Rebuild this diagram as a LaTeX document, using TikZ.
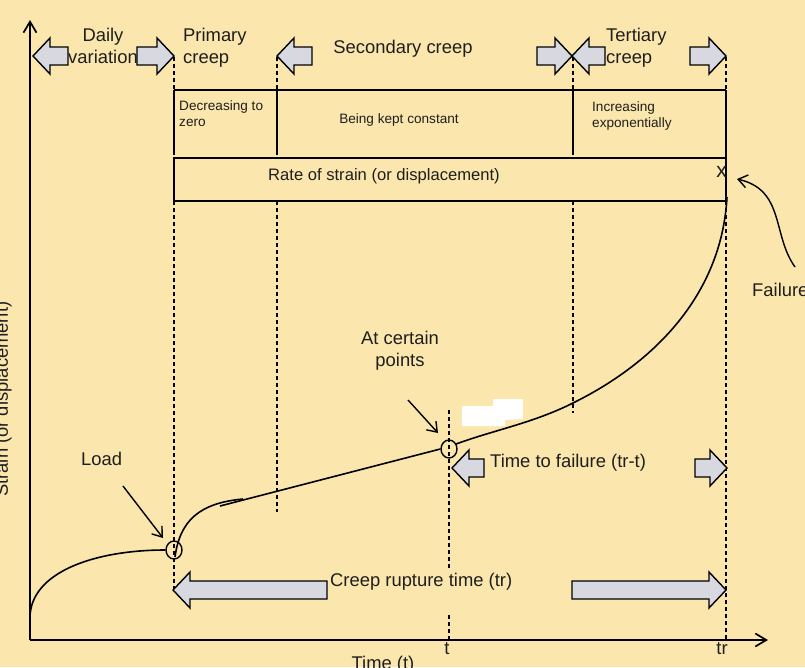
\documentclass[tikz,border=0pt]{standalone}
\usepackage{fontspec}
\setmainfont{Liberation Sans}
\usetikzlibrary{arrows.meta,shapes.geometric}
\definecolor{bgc}{RGB}{251,231,173}
\definecolor{arrfill}{RGB}{216,216,224}
\definecolor{txt}{RGB}{30,30,30}
\tikzset{
  blk/.style={draw=black, fill=arrfill, line width=1.4pt, line join=miter},
  big/.style={font=\fontsize{18.4}{22}\selectfont, inner sep=0pt, text=txt},
  mid/.style={font=\fontsize{16.6}{20}\selectfont, inner sep=0pt, text=txt},
  small/.style={font=\fontsize{13.6}{16}\selectfont, inner sep=0pt, text=txt},
  xl/.style={font=\fontsize{21}{24}\selectfont, inner sep=0pt, text=txt},
  solidln/.style={line width=1.6pt},
  dashln/.style={line width=1.1pt, dash pattern=on 4pt off 3pt},
  curve/.style={line width=1.6pt},
  ptr/.style={line width=1.4pt, -{Straight Barb[length=9pt,width=13pt]}},
  axisln/.style={line width=1.7pt},
  ring/.style={ellipse, draw, line width=1.4pt, minimum width=16pt, minimum height=18pt, inner sep=0pt},
}
\newcommand\lblk[3]{\draw[blk] (#1,#2) -- ++(17,-18) -- ++(0,9) -- (#3,#2-9) -- (#3,#2+9) -- (#1+17,#2+9) -- ++(0,9) -- cycle;}
\newcommand\rblk[3]{\draw[blk] (#1,#2) -- ++(-17,-18) -- ++(0,9) -- (#3,#2-9) -- (#3,#2+9) -- (#1-17,#2+9) -- ++(0,9) -- cycle;}
\begin{document}
\begin{tikzpicture}[x=1pt,y=-1pt]
\fill[bgc] (0,0) rectangle (805,667);
\useasboundingbox (0,0) rectangle (805,667);

% axes
\coordinate (O) at (30,640);
\coordinate (ytop) at (30,20);
\coordinate (xend) at (768,640);
\draw[axisln, -{Straight Barb[length=11pt,width=13pt]}] (O) -- (ytop);
\draw[axisln, -{Straight Barb[length=11pt,width=13pt]}] (O) -- (xend);

% dashed guide lines
\draw[dashln] (174,57) -- (174,90);
\draw[dashln] (277,57) -- (277,90);
\draw[dashln] (573,57) -- (573,90);
\draw[dashln] (726,57) -- (726,90);
\draw[dashln] (174,201) -- (174,590);
\draw[dashln] (277,201) -- (277,512);
\draw[dashln] (573,201) -- (573,413);
\draw[dashln] (726,201) -- (726,640);
\draw[dashln] (449,410) -- (449,568);
\draw[dashln] (449,615) -- (449,640);

% top band
\draw[solidln] (174,90) -- (726,90);
\draw[solidln] (174,90) -- (174,155);
\draw[solidln] (277,90) -- (277,155);
\draw[solidln] (573,90) -- (573,155);
\draw[solidln] (726,90) -- (726,158);
\draw[solidln] (174,158) rectangle (726,201);

% block arrows
\lblk{33}{56}{68}
\rblk{174}{56}{137}
\lblk{277}{56}{312}
\rblk{572}{56}{537}
\lblk{572}{56}{605}
\rblk{726}{56}{690}
\lblk{173}{590}{327}
\rblk{726}{590}{572}
\lblk{452}{468}{484}
\rblk{727}{468}{695}

% curve
\node[ring] (c1) at (174,550) {};
\node[ring] (c2) at (449,449) {};
\draw[curve] (30,618) .. controls (30,572) and (95,550) .. (c1.west);
\draw[curve] (175,557) .. controls (180,520) and (200,503) .. (243,499);
\draw[curve] (220,506) -- (c2.west);
\draw[curve] (456,444) .. controls (496,429.5) and (533,423) .. (573,403)
  .. controls (660,360) and (722,290) .. (727,197);

% white patch
\fill[white] (462,406) -- (493,406) -- (493,399) -- (523,399) -- (523,419) -- (505,420) -- (505,426) -- (462,426) -- cycle;

% pointers
\coordinate (loadtail) at (123,486);
\coordinate (loadtip) at (163,538);
\draw[ptr] (loadtail) -- (loadtip);
\coordinate (certtail) at (408,400);
\coordinate (certtip) at (438,433);
\draw[ptr] (certtail) -- (certtip);
\coordinate (failtail) at (795,267);
\coordinate (failtip) at (737,179);
\draw[ptr] (failtail) .. controls (772,235) and (785,190) .. (failtip);

% texts
\node[big, anchor=base] (daily1) at (103,41) {Daily};
\node[big, anchor=base] (daily2) at (103,63) {variation};
\node[big, anchor=base west] (prim1) at (183,41) {Primary};
\node[big, anchor=base west] (prim2) at (183,63) {creep};
\node[big, anchor=base] (sec) at (403,53) {Secondary creep};
\node[big, anchor=base west] (ter1) at (606,41) {Tertiary};
\node[big, anchor=base west] (ter2) at (606,63) {creep};
\node[small, anchor=base west] (dec1) at (179,110) {Decreasing to};
\node[small, anchor=base west] (dec2) at (179,126) {zero};
\node[small, anchor=base] (keep) at (399,123) {Being kept constant};
\node[small, anchor=base west] (inc1) at (592,111) {Increasing};
\node[small, anchor=base west] (inc2) at (592,127) {exponentially};
\node[mid, anchor=base] (rate) at (384,180) {Rate of strain (or displacement)};
\node[xl, anchor=base east] (xmark) at (727,177) {x};
\node[big, anchor=base west] (fail) at (752,296) {Failure};
\node[big, anchor=base west] (load) at (81,465) {Load};
\node[big, anchor=base] (cert1) at (400,344) {At certain};
\node[big, anchor=base] (cert2) at (400,366) {points};
\node[big, anchor=base west] (ttf) at (490,467) {Time to failure (tr-t)};
\node[big, anchor=base west] (crt) at (330,586) {Creep rupture time (tr)};
\node[big, anchor=base] (tlab) at (447,654) {t};
\node[big, anchor=base] (trlab) at (722,654) {tr};
\node[big, anchor=base] (timelab) at (383,669) {Time (t)};
\node[big, anchor=base west, rotate=90] (ylab) at (8,497) {Strain (or displacement)};
\end{tikzpicture}
\end{document}
